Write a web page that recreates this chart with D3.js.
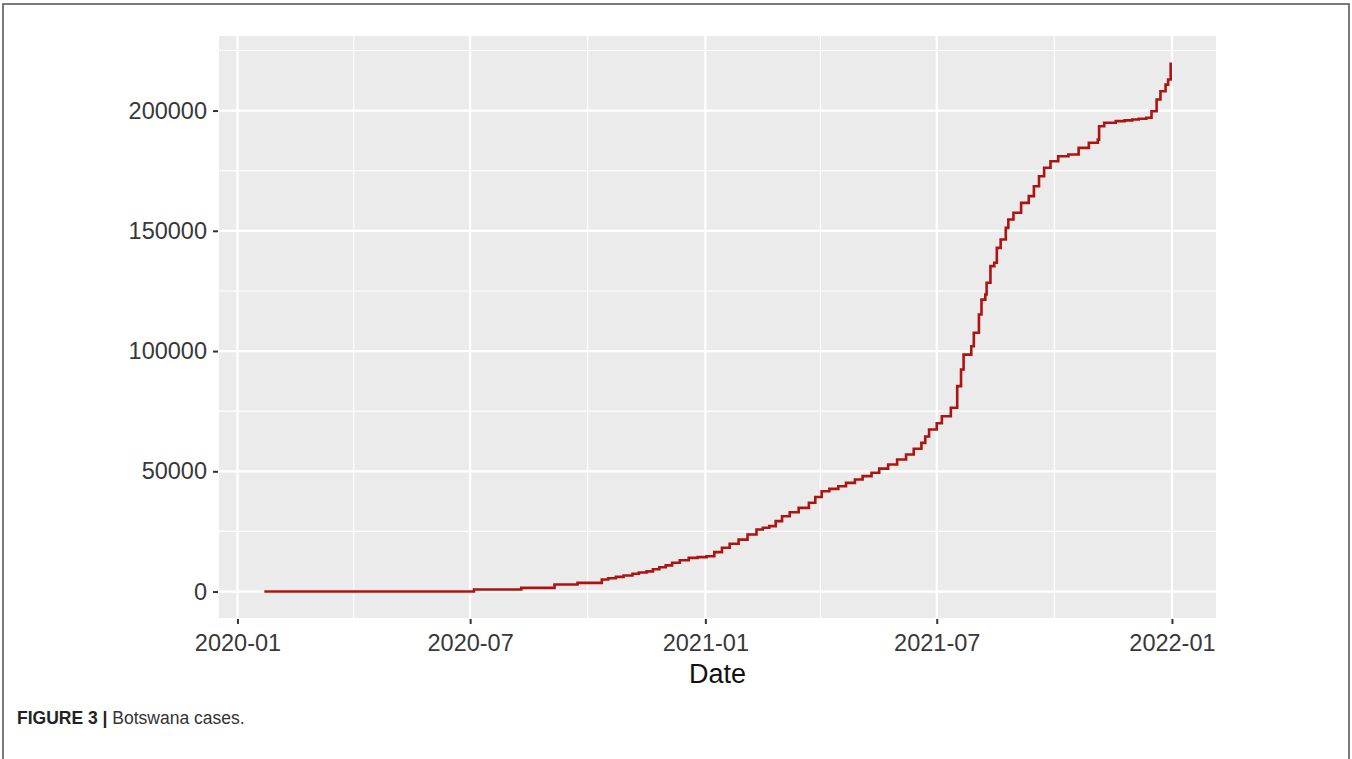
<!DOCTYPE html>
<html>
<head>
<meta charset="utf-8">
<script src="https://cdn.jsdelivr.net/npm/d3@7"></script>
<style>
  html, body { margin: 0; padding: 0; background: #fff; }
  svg { display: block; }
</style>
</head>
<body>
<svg id="chart" width="1352" height="759"></svg>
<script>
// Cumulative confirmed COVID-19 cases, Botswana (date of report, running total)
const dates = [
  "2020-01-22", "2020-07-04", "2020-08-10", "2020-09-05", "2020-09-23",
  "2020-10-12", "2020-10-17", "2020-10-23", "2020-10-29", "2020-11-05",
  "2020-11-10", "2020-11-16", "2020-11-21", "2020-11-26", "2020-12-01",
  "2020-12-06", "2020-12-12", "2020-12-19", "2020-12-26", "2021-01-02",
  "2021-01-08", "2021-01-14", "2021-01-20", "2021-01-27", "2021-02-03",
  "2021-02-10", "2021-02-15", "2021-02-20", "2021-02-25", "2021-03-02",
  "2021-03-08", "2021-03-15", "2021-03-23", "2021-03-28", "2021-04-02",
  "2021-04-08", "2021-04-15", "2021-04-21", "2021-04-28", "2021-05-04",
  "2021-05-11", "2021-05-17", "2021-05-24", "2021-05-31", "2021-06-07",
  "2021-06-13", "2021-06-19", "2021-06-22", "2021-06-25", "2021-07-01",
  "2021-07-05", "2021-07-12", "2021-07-17", "2021-07-20", "2021-07-22",
  "2021-07-28", "2021-07-30", "2021-08-03", "2021-08-05", "2021-08-08",
  "2021-08-09", "2021-08-12", "2021-08-15", "2021-08-17", "2021-08-20",
  "2021-08-24", "2021-08-26", "2021-08-30", "2021-09-05", "2021-09-11",
  "2021-09-15", "2021-09-19", "2021-09-23", "2021-09-28", "2021-10-04",
  "2021-10-12", "2021-10-20", "2021-10-28", "2021-11-04", "2021-11-05",
  "2021-11-09", "2021-11-18", "2021-11-25", "2021-12-01", "2021-12-06",
  "2021-12-12", "2021-12-16", "2021-12-20", "2021-12-23", "2021-12-27",
  "2021-12-29", "2021-12-31"
];
const cases = [
  0, 830, 1540, 2900, 3600,
  5000, 5500, 6100, 6700, 7400,
  7900, 8400, 9300, 10100, 10900,
  12000, 13000, 14000, 14300, 14700,
  16400, 18200, 19900, 21600, 23700,
  25800, 26500, 27200, 29300, 31300,
  33000, 34800, 36900, 39300, 41700,
  42700, 43800, 45200, 46600, 48000,
  49400, 51100, 52800, 54900, 57000,
  59400, 61800, 64500, 67400, 70000,
  72900, 76400, 85400, 92300, 98500,
  102000, 107600, 115200, 121400, 123500,
  128400, 135300, 136700, 142900, 146400,
  151200, 154700, 157500, 161600, 164400,
  168500, 172700, 176200, 178900, 181000,
  181700, 184500, 186600, 187900, 193500,
  194900, 195600, 195900, 196300, 196600,
  197000, 199700, 204600, 208000, 210800,
  212900, 220000
];
const yTicks = [0, 50000, 100000, 150000, 200000];
const yMinor = [25000, 75000, 125000, 175000, 225000];
const xTickLabels = ["2020-01", "2020-07", "2021-01", "2021-07", "2022-01"];
const xMinorLabels = ["2020-04", "2020-10", "2021-04", "2021-10"];
const xTitle = "Date";
const captionBold = "FIGURE 3 |";
const captionText = " Botswana cases.";

const parseDay = d3.timeParse("%Y-%m-%d");
const parseMonth = d3.timeParse("%Y-%m");
const series = dates.map((d, i) => ({ date: parseDay(d), value: cases[i] }));

const svg = d3.select("#chart");

// outer frame
svg.append("rect")
  .attr("x", 3).attr("y", 4)
  .attr("width", 1346).attr("height", 770)
  .attr("fill", "none")
  .attr("stroke", "#5a5a5a")
  .attr("stroke-width", 1.6);

const panel = { left: 219, right: 1216, top: 36, bottom: 618 };

// ggplot-like 5% expansion of the data range
function expand(lo, hi) {
  const pad = (hi - lo) * 0.05;
  return [lo - pad, hi + pad];
}
const tExtent = d3.extent(series, d => +d.date);
const [t0, t1] = expand(tExtent[0], tExtent[1]);
const x = d3.scaleTime()
  .domain([new Date(t0), new Date(t1)])
  .range([panel.left, panel.right]);

const vExtent = d3.extent(series, d => d.value);
const y = d3.scaleLinear()
  .domain(expand(vExtent[0], vExtent[1]))
  .range([panel.bottom, panel.top]);

// panel background
svg.append("rect")
  .attr("x", panel.left).attr("y", panel.top)
  .attr("width", panel.right - panel.left)
  .attr("height", panel.bottom - panel.top)
  .attr("fill", "#ebebeb");

const grid = svg.append("g");

// minor gridlines
grid.selectAll("line.ymin").data(yMinor).join("line")
  .attr("x1", panel.left).attr("x2", panel.right)
  .attr("y1", d => y(d)).attr("y2", d => y(d))
  .attr("stroke", "#fff").attr("stroke-width", 1.1);
grid.selectAll("line.xmin").data(xMinorLabels.map(parseMonth)).join("line")
  .attr("y1", panel.top).attr("y2", panel.bottom)
  .attr("x1", d => x(d)).attr("x2", d => x(d))
  .attr("stroke", "#fff").attr("stroke-width", 1.1);

// major gridlines
grid.selectAll("line.ymaj").data(yTicks).join("line")
  .attr("x1", panel.left).attr("x2", panel.right)
  .attr("y1", d => y(d)).attr("y2", d => y(d))
  .attr("stroke", "#fff").attr("stroke-width", 2.2);
grid.selectAll("line.xmaj").data(xTickLabels.map(parseMonth)).join("line")
  .attr("y1", panel.top).attr("y2", panel.bottom)
  .attr("x1", d => x(d)).attr("x2", d => x(d))
  .attr("stroke", "#fff").attr("stroke-width", 2.2);

// case curve
const line = d3.line()
  .x(d => x(d.date))
  .y(d => y(d.value))
  .curve(d3.curveStepAfter);
svg.append("path")
  .datum(series)
  .attr("d", line)
  .attr("fill", "none")
  .attr("stroke", "#ad1410")
  .attr("stroke-width", 2.6)
  .attr("stroke-linejoin", "miter");

// axes
const yAxis = d3.axisLeft(y)
  .tickValues(yTicks)
  .tickSize(5)
  .tickPadding(6)
  .tickFormat(d3.format("d"));
const gy = svg.append("g")
  .attr("transform", `translate(${panel.left - 1},0)`)
  .call(yAxis);

const xAxis = d3.axisBottom(x)
  .tickValues(xTickLabels.map(parseMonth))
  .tickSize(5)
  .tickPadding(10)
  .tickFormat(d3.timeFormat("%Y-%m"));
const gx = svg.append("g")
  .attr("transform", `translate(0,${panel.bottom + 1})`)
  .call(xAxis);

[gx, gy].forEach(g => {
  g.select(".domain").remove();
  g.selectAll(".tick line").attr("stroke", "#333").attr("stroke-width", 2);
  g.selectAll(".tick text")
    .attr("fill", "#383838")
    .style("font-family", "'Liberation Sans', Arial, sans-serif")
    .style("font-size", "23.5px");
});

// axis title
svg.append("text")
  .attr("x", (panel.left + panel.right) / 2)
  .attr("y", 683)
  .attr("text-anchor", "middle")
  .attr("fill", "#111")
  .style("font-family", "'Liberation Sans', Arial, sans-serif")
  .style("font-size", "27px")
  .text(xTitle);

// caption
const cap = svg.append("text")
  .attr("x", 17)
  .attr("y", 724)
  .style("font-family", "'Liberation Sans', Arial, sans-serif")
  .style("font-size", "17.5px");
cap.append("tspan").attr("font-weight", "bold").attr("fill", "#222").text(captionBold);
cap.append("tspan").attr("fill", "#333").text(captionText);
</script>
</body>
</html>
